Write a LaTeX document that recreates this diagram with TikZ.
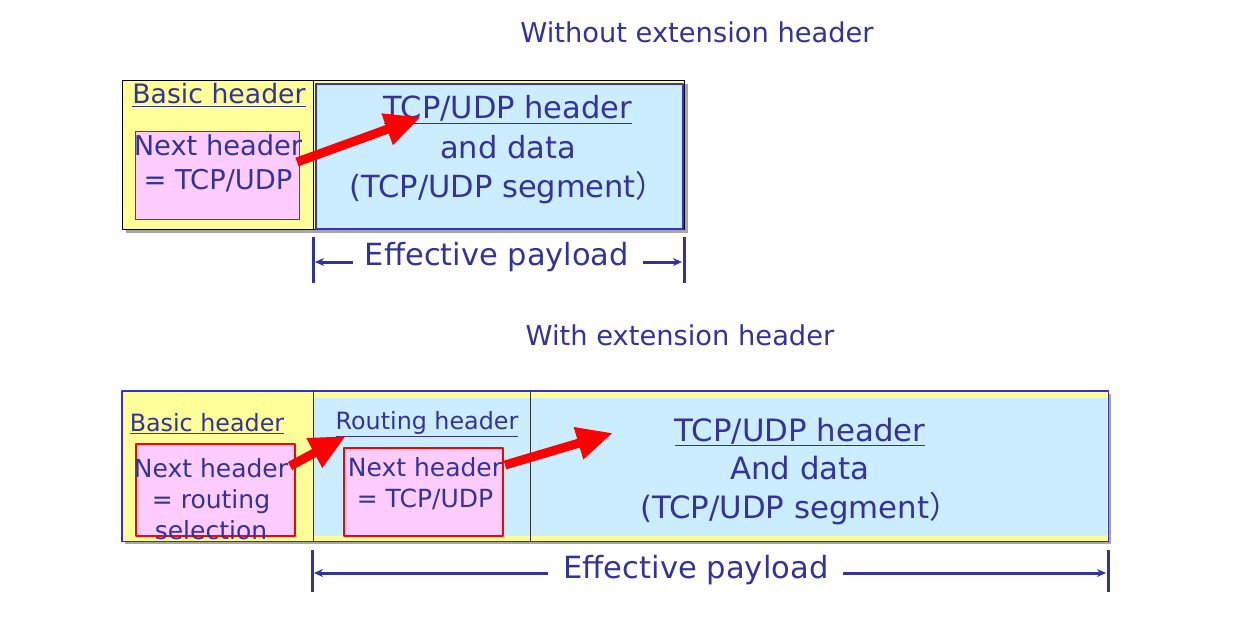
\documentclass[tikz,border=0pt]{standalone}
\usepackage{fontspec}
\setmainfont{DejaVu Sans}
\newfontfamily\cjk{Noto Sans CJK SC}
\usetikzlibrary{arrows.meta,positioning}
\definecolor{txtblue}{HTML}{333399}
\definecolor{hdryellow}{HTML}{FFFF99}
\definecolor{pldblue}{HTML}{CCECFF}
\definecolor{nhpink}{HTML}{FFCCFF}
\definecolor{edgeblue}{HTML}{3333CC}
\begin{document}
\begin{tikzpicture}[x=1pt,y=-1pt,line join=round,
    txt/.style={text=txtblue,inner sep=0pt,align=center},
    big/.style={txt,font=\fontsize{30.5}{39.5}\selectfont},
    small/.style={txt,font=\fontsize{25}{31}\selectfont},
    box/.style={inner sep=0pt,anchor=north west},
    ptr/.style={red,line width=9pt,-{Triangle[length=36pt,width=31pt]}},
    dim/.style={txtblue,line width=3pt},
    dimarr/.style={dim,-{Stealth[length=9pt,width=8pt]}}]
    \useasboundingbox (0,0) rectangle (1255,625);
    % without extension header
    \node[txt,font=\fontsize{27.3}{30}\selectfont] (title1) at (697,32) {Without extension header};
    \fill[gray!70] (126,84) rectangle (688,233);
    \node[box,draw=black,line width=1pt,fill=hdryellow,minimum width=562pt,minimum height=149pt] (frame1) at (122,80) {};
    \node[box,draw=edgeblue,line width=1.5pt,fill=pldblue,minimum width=367pt,minimum height=145pt] (data1) at (315,83) {};
    \draw[black,line width=1pt] (313,80) -- (313,229);
    \node[box,draw=red,line width=1pt,fill=nhpink,minimum width=164pt,minimum height=88pt] (nh1) at (135,131) {};
    \node[txt,font=\fontsize{26.7}{30}\selectfont] (basic1) at (219,95) {\underline{Basic header}};
    \node[txt,font=\fontsize{27.3}{34}\selectfont] (next1) at (218,163) {Next header\\= TCP/UDP};
    \node[big] (tcp1) at (508,150) {\underline{TCP/UDP header}\\and data\\(TCP/UDP segment{\cjk ）}};
    \coordinate (p1s) at (297,162);
    \coordinate (p1e) at (421,117);
    \draw[ptr] (p1s) -- (p1e);
    \node[txt,font=\fontsize{30.5}{34}\selectfont] (pay1) at (497,257) {Effective payload};
    \draw[dim] (313,237) -- (313,283);
    \draw[dim] (684,237) -- (684,283);
    \coordinate (d1a) at (353,262);
    \coordinate (d1b) at (315,262);
    \coordinate (d1c) at (643,262);
    \coordinate (d1d) at (682,262);
    \draw[dimarr] (d1a) -- (d1b);
    \draw[dimarr] (d1c) -- (d1d);
    % with extension header
    \node[txt,font=\fontsize{27.3}{30}\selectfont] (title2) at (680,335) {With extension header};
    \fill[gray!70] (125,394) rectangle (1111,544);
    \node[box,draw=edgeblue,fill=hdryellow,minimum width=986pt,minimum height=150pt] (frame2) at (122,391) {};
    \node[box,fill=pldblue,minimum width=217pt,minimum height=138pt] (route2) at (313,398) {};
    \node[box,fill=pldblue,minimum width=577pt,minimum height=138pt] (data2) at (530,398) {};
    \draw[edgeblue,line width=1.5pt] (frame2.north west) rectangle (frame2.south east);
    \draw[black!80,line width=1pt] (313,391) -- (313,541);
    \draw[black!80,line width=1pt] (530,391) -- (530,541);
    \node[box,draw=red,line width=1.5pt,fill=nhpink,minimum width=159pt,minimum height=92pt] (nh2) at (135,443) {};
    \node[box,draw=red,line width=1.5pt,fill=nhpink,minimum width=159pt,minimum height=88pt] (nh3) at (343,447) {};
    \node[txt,font=\fontsize{23.8}{28}\selectfont] (basic2) at (207,424) {\underline{Basic header}};
    \node[txt,font=\fontsize{23.8}{28}\selectfont] (rhdr2) at (427,424) {\underline{Routing header}};
    \node[small] (next2) at (211,499) {Next header\\= routing\\selection};
    \node[small] (next3) at (425,484) {Next header\\= TCP/UDP};
    \node[txt,font=\fontsize{30.8}{38.5}\selectfont] (tcp2) at (800,471) {\underline{TCP/UDP header}\\And data\\(TCP/UDP segment{\cjk ）}};
    \coordinate (p2s) at (290,466);
    \coordinate (p2e) at (346,436);
    \coordinate (p3s) at (505,465);
    \coordinate (p3e) at (613,433);
    \draw[ptr] (p2s) -- (p2e);
    \draw[ptr] (p3s) -- (p3e);
    \node[txt,font=\fontsize{30.6}{34}\selectfont] (pay2) at (696,570) {Effective payload};
    \draw[dim] (312,550) -- (312,592);
    \draw[dim] (1108,550) -- (1108,592);
    \coordinate (d2a) at (548,573);
    \coordinate (d2b) at (314,573);
    \coordinate (d2c) at (843,573);
    \coordinate (d2d) at (1106,573);
    \draw[dimarr] (d2a) -- (d2b);
    \draw[dimarr] (d2c) -- (d2d);
\end{tikzpicture}
\end{document}
